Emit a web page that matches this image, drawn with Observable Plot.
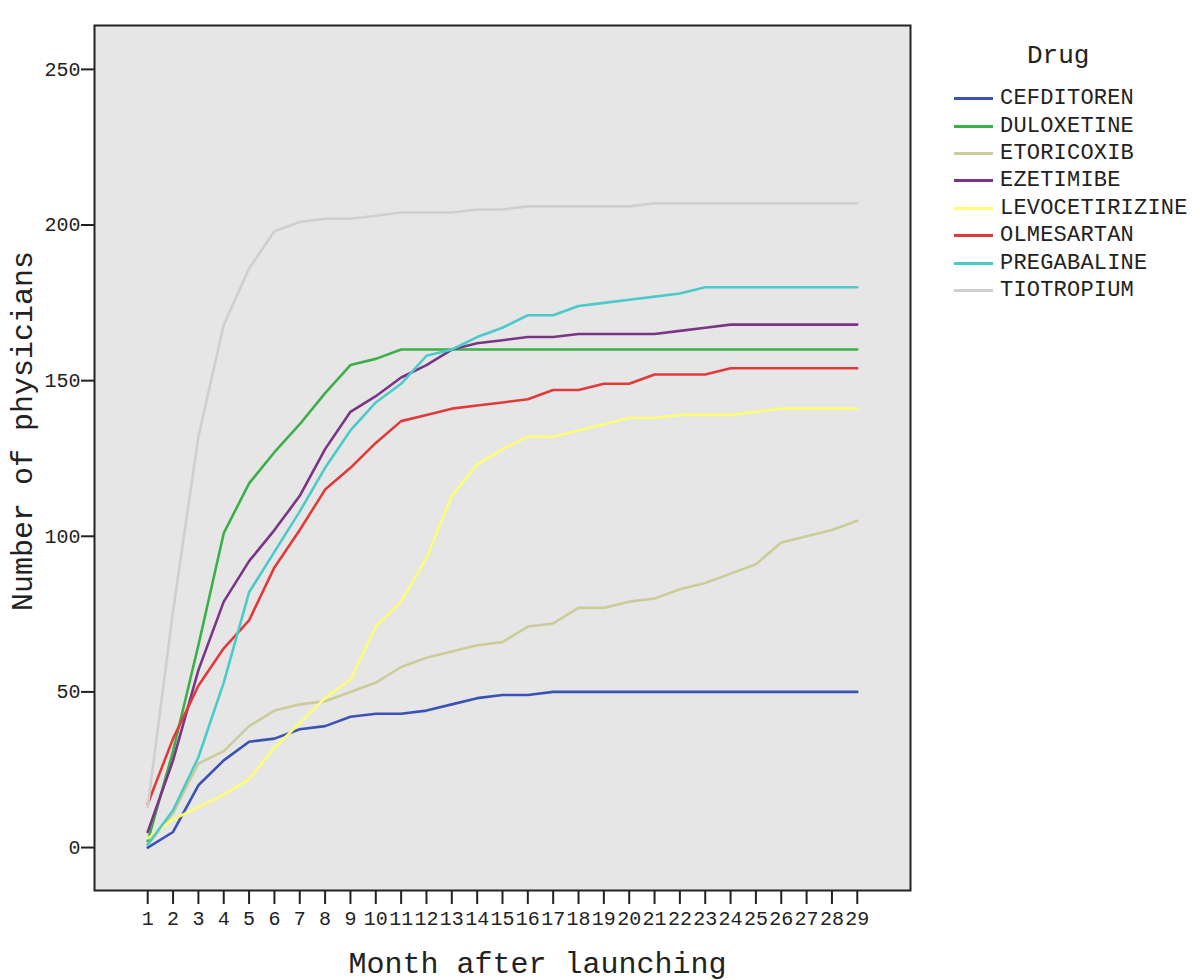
<!DOCTYPE html>
<html>
<head>
<meta charset="utf-8">
<script src="https://cdn.jsdelivr.net/npm/d3@7"></script>
<script src="https://cdn.jsdelivr.net/npm/@observablehq/plot@0.6"></script>
<style>
  body { margin: 0; background: #fff; }
  #wrap { position: relative; width: 1200px; height: 980px; overflow: hidden; }
  #chart { position: absolute; left: 0; top: 0; }
  #legend-title { position: absolute; left: 1027px; top: 43px; font-family: "Liberation Mono", monospace; font-size: 26px; line-height: 26px; color: #222; }
  #legend { position: absolute; left: 954px; top: 85px; width: 246px; }
  .drug-swatches { font-family: "Liberation Mono", monospace !important; font-size: 22px !important; letter-spacing: 0.2px; color: #222; margin: 0 !important; }
  .drug-swatch { height: 27.4px; padding-bottom: 0 !important; }
  .drug-swatch > svg { margin-right: 7px !important; }
</style>
</head>
<body>
<div id="wrap">
  <div id="chart"></div>
  <div id="legend-title">Drug</div>
  <div id="legend"></div>
</div>
<script>
// ---- data ----
const months = [1,2,3,4,5,6,7,8,9,10,11,12,13,14,15,16,17,18,19,20,21,22,23,24,25,26,27,28,29];
const yTicks = [0, 50, 100, 150, 200, 250];
const drugs = ["CEFDITOREN","DULOXETINE","ETORICOXIB","EZETIMIBE","LEVOCETIRIZINE","OLMESARTAN","PREGABALINE","TIOTROPIUM"];
const colors = ["#3b52b4","#3bb049","#cccc9a","#7b3585","#fdfd78","#e23a3a","#4ccaca","#cfcfcf"];

const cefditoren     = [0,5,20,28,34,35,38,39,42,43,43,44,46,48,49,49,50,50,50,50,50,50,50,50,50,50,50,50,50];
const duloxetine     = [2,31,65,101,117,127,136,146,155,157,160,160,160,160,160,160,160,160,160,160,160,160,160,160,160,160,160,160,160];
const etoricoxib     = [1,11,27,31,39,44,46,47,50,53,58,61,63,65,66,71,72,77,77,79,80,83,85,88,91,98,100,102,105];
const ezetimibe      = [5,28,57,79,92,102,113,128,140,145,151,155,160,162,163,164,164,165,165,165,165,166,167,168,168,168,168,168,168];
const levocetirizine = [3,9,13,17,22,32,40,48,54,71,79,93,113,123,128,132,132,134,136,138,138,139,139,139,140,141,141,141,141];
const olmesartan     = [14,35,52,64,73,90,102,115,122,130,137,139,141,142,143,144,147,147,149,149,152,152,152,154,154,154,154,154,154];
const pregabaline    = [1,12,29,53,82,95,108,122,134,143,149,158,160,164,167,171,171,174,175,176,177,178,180,180,180,180,180,180,180];
const tiotropium     = [13,76,132,168,186,198,201,202,202,203,204,204,204,205,205,206,206,206,206,206,207,207,207,207,207,207,207,207,207];

const series = [cefditoren, duloxetine, etoricoxib, ezetimibe, levocetirizine, olmesartan, pregabaline, tiotropium];
const rows = drugs.flatMap((drug, i) => months.map((month, j) => ({drug, month, value: series[i][j]})));

// ---- chart ----
const chart = Plot.plot({
  width: 1200,
  height: 980,
  marginLeft: 94,
  marginRight: 290,
  marginTop: 25,
  marginBottom: 90,
  style: { fontFamily: '"Liberation Mono", monospace', fontSize: "20px", color: "#222", background: "transparent" },
  x: { domain: [-1.1, 31.1], label: null },
  y: { domain: [-13.8, 264.1], label: null },
  color: { domain: drugs, range: colors },
  marks: [
    Plot.frame({ fill: "#e6e6e6" }),
    Plot.axisY({ ticks: yTicks, tickSize: 13, tickPadding: 1, strokeWidth: 2, label: null, tickFormat: d => String(d) }),
    Plot.axisX({ ticks: months, tickSize: 14, tickPadding: 6, strokeWidth: 2, label: null, tickFormat: d => String(d) }),
    Plot.lineY(rows, { x: "month", y: "value", z: "drug", stroke: "drug", strokeWidth: 2.6 }),
    Plot.frame({ stroke: "#222", strokeWidth: 2 }),
    Plot.text(["Number of physicians"], { text: d => d, frameAnchor: "left", textAnchor: "middle", lineAnchor: "middle", rotate: -90, dx: -72, dy: -27, fontSize: 30 }),
    Plot.text(["Month after launching"], { text: d => d, frameAnchor: "bottom", textAnchor: "middle", lineAnchor: "bottom", dx: 35, dy: 82, fontSize: 30 })
  ]
});
document.getElementById("chart").appendChild(chart);

const legend = Plot.legend({
  color: { domain: drugs, range: colors, type: "ordinal" },
  legend: "swatches",
  columns: 1,
  swatchWidth: 39,
  swatchHeight: 3,
  className: "drug"
});
document.getElementById("legend").appendChild(legend);
</script>
</body>
</html>
